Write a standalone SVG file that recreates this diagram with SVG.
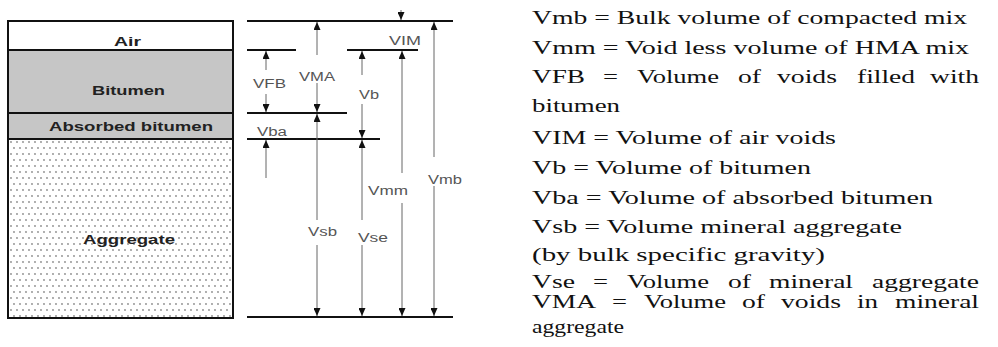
<svg xmlns="http://www.w3.org/2000/svg" width="998" height="347" viewBox="0 0 998 347">
<style>
.box{font-family:"Liberation Sans",Arial,sans-serif;font-weight:bold;font-size:12.5px;fill:#222}
.dim{font-family:"Liberation Sans",Arial,sans-serif;font-size:12px;fill:#555}
.def{font-family:"Liberation Serif","Times New Roman",serif;font-size:19px;fill:#111}
.hl{stroke:#111;stroke-width:2}
.st{stroke:#666;stroke-width:1;fill:none}
.sep{stroke:#111;stroke-width:2}
</style>
<defs>
<pattern id="dots" width="6" height="12" patternUnits="userSpaceOnUse" x="8" y="139">
<circle cx="3" cy="3" r="0.9" fill="#8a8a8a"/>
<circle cx="0" cy="9" r="0.9" fill="#8a8a8a"/>
<circle cx="6" cy="9" r="0.9" fill="#8a8a8a"/>
</pattern>
<marker id="ah" markerUnits="userSpaceOnUse" markerWidth="8" markerHeight="7" refX="8" refY="3.5" orient="auto">
<path d="M0,0 L8,3.5 L0,7 z" fill="#111"/>
</marker>
</defs>
<rect width="998" height="347" fill="#fff"/>

<g id="layer-air">
<rect x="8" y="21" width="225" height="29" fill="#fff"/>
<text class="box" x="114" y="46" textLength="27" lengthAdjust="spacingAndGlyphs">Air</text>
</g>
<g id="layer-bitumen">
<rect x="8" y="50" width="225" height="63" fill="#c6c6c6"/>
<text class="box" x="92" y="95" textLength="73" lengthAdjust="spacingAndGlyphs">Bitumen</text>
</g>
<g id="layer-absorbed">
<rect x="8" y="113" width="225" height="26" fill="#c6c6c6"/>
<text class="box" x="49" y="131" textLength="164" lengthAdjust="spacingAndGlyphs">Absorbed bitumen</text>
</g>
<g id="layer-aggregate">
<rect x="8" y="139" width="225" height="179" fill="url(#dots)"/>
<text class="box" x="83" y="244" textLength="92" lengthAdjust="spacingAndGlyphs">Aggregate</text>
</g>
<g id="box-outline">
<rect x="8" y="21" width="225" height="297" fill="none" stroke="#111" stroke-width="2"/>
<line class="sep" x1="8" y1="50" x2="233" y2="50"/>
<line class="sep" x1="8" y1="113" x2="233" y2="113"/>
<line class="sep" x1="8" y1="139" x2="233" y2="139"/>
</g>

<g id="connectors">
<line class="hl" x1="247" y1="21" x2="453" y2="21"/>
<line class="hl" x1="247" y1="50" x2="296" y2="50"/>
<line class="hl" x1="347" y1="50" x2="418" y2="50"/>
<line class="hl" x1="247" y1="113" x2="347" y2="113"/>
<line class="hl" x1="247" y1="139" x2="380" y2="139"/>
<line class="hl" x1="247" y1="317" x2="453" y2="317"/>

<line class="st" x1="266" y1="70" x2="266" y2="51" marker-end="url(#ah)"/>
<line class="st" x1="266" y1="94" x2="266" y2="112" marker-end="url(#ah)"/>
<line class="st" x1="317" y1="55" x2="317" y2="22" marker-end="url(#ah)"/>
<line class="st" x1="317" y1="83" x2="317" y2="112" marker-end="url(#ah)"/>
<line class="st" x1="362" y1="75" x2="362" y2="51" marker-end="url(#ah)"/>
<line class="st" x1="362" y1="104" x2="362" y2="138" marker-end="url(#ah)"/>
<line class="st" x1="401" y1="10" x2="401" y2="20" marker-end="url(#ah)"/>
<line class="st" x1="402" y1="173" x2="402" y2="51" marker-end="url(#ah)"/>
<line class="st" x1="402" y1="203" x2="402" y2="316" marker-end="url(#ah)"/>
<line class="st" x1="434" y1="157" x2="434" y2="22" marker-end="url(#ah)"/>
<line class="st" x1="434" y1="186" x2="434" y2="316" marker-end="url(#ah)"/>
<line class="st" x1="317" y1="220" x2="317" y2="114" marker-end="url(#ah)"/>
<line class="st" x1="317" y1="245" x2="317" y2="316" marker-end="url(#ah)"/>
<line class="st" x1="362" y1="220" x2="362" y2="140" marker-end="url(#ah)"/>
<line class="st" x1="362" y1="245" x2="362" y2="316" marker-end="url(#ah)"/>
<line class="st" x1="266" y1="178" x2="266" y2="140" marker-end="url(#ah)"/>
</g>

<g id="dim-labels">
<text class="dim" x="253" y="88" textLength="33" lengthAdjust="spacingAndGlyphs">VFB</text>
<text class="dim" x="299" y="81" textLength="36" lengthAdjust="spacingAndGlyphs">VMA</text>
<text class="dim" x="359" y="99" textLength="20" lengthAdjust="spacingAndGlyphs">Vb</text>
<text class="dim" x="257" y="136" textLength="30" lengthAdjust="spacingAndGlyphs">Vba</text>
<text class="dim" x="389" y="45" textLength="32" lengthAdjust="spacingAndGlyphs">VIM</text>
<text class="dim" x="368" y="195" textLength="40" lengthAdjust="spacingAndGlyphs">Vmm</text>
<text class="dim" x="428" y="184" textLength="34" lengthAdjust="spacingAndGlyphs">Vmb</text>
<text class="dim" x="308" y="236" textLength="29" lengthAdjust="spacingAndGlyphs">Vsb</text>
<text class="dim" x="358" y="242" textLength="30" lengthAdjust="spacingAndGlyphs">Vse</text>
</g>

<g id="definitions">
<text class="def" x="532" y="24" textLength="435" lengthAdjust="spacingAndGlyphs">Vmb = Bulk volume of compacted mix</text>
<text class="def" x="532" y="54" textLength="437" lengthAdjust="spacingAndGlyphs">Vmm = Void less volume of HMA mix</text>
<g>
<text class="def" x="532" y="83" textLength="53" lengthAdjust="spacingAndGlyphs">VFB</text>
<text class="def" x="603" y="83" textLength="15" lengthAdjust="spacingAndGlyphs">=</text>
<text class="def" x="637" y="83" textLength="82" lengthAdjust="spacingAndGlyphs">Volume</text>
<text class="def" x="738" y="83" textLength="23" lengthAdjust="spacingAndGlyphs">of</text>
<text class="def" x="777" y="83" textLength="60" lengthAdjust="spacingAndGlyphs">voids</text>
<text class="def" x="857" y="83" textLength="58" lengthAdjust="spacingAndGlyphs">filled</text>
<text class="def" x="930" y="83" textLength="49" lengthAdjust="spacingAndGlyphs">with</text>
</g>
<text class="def" x="532" y="112" textLength="88" lengthAdjust="spacingAndGlyphs">bitumen</text>
<text class="def" x="532" y="144" textLength="304" lengthAdjust="spacingAndGlyphs">VIM = Volume of air voids</text>
<text class="def" x="532" y="174" textLength="279" lengthAdjust="spacingAndGlyphs">Vb = Volume of bitumen</text>
<text class="def" x="532" y="204" textLength="401" lengthAdjust="spacingAndGlyphs">Vba = Volume of absorbed bitumen</text>
<text class="def" x="532" y="233" textLength="370" lengthAdjust="spacingAndGlyphs">Vsb = Volume mineral aggregate</text>
<text class="def" x="532" y="261" textLength="293" lengthAdjust="spacingAndGlyphs">(by bulk specific gravity)</text>
<g>
<text class="def" x="532" y="288" textLength="43" lengthAdjust="spacingAndGlyphs">Vse</text>
<text class="def" x="593" y="288" textLength="15" lengthAdjust="spacingAndGlyphs">=</text>
<text class="def" x="627" y="288" textLength="82" lengthAdjust="spacingAndGlyphs">Volume</text>
<text class="def" x="728" y="288" textLength="23" lengthAdjust="spacingAndGlyphs">of</text>
<text class="def" x="769" y="288" textLength="84" lengthAdjust="spacingAndGlyphs">mineral</text>
<text class="def" x="872" y="288" textLength="107" lengthAdjust="spacingAndGlyphs">aggregate</text>
</g>
<g>
<text class="def" x="532" y="308" textLength="64" lengthAdjust="spacingAndGlyphs">VMA</text>
<text class="def" x="612" y="308" textLength="15" lengthAdjust="spacingAndGlyphs">=</text>
<text class="def" x="644" y="308" textLength="82" lengthAdjust="spacingAndGlyphs">Volume</text>
<text class="def" x="742" y="308" textLength="23" lengthAdjust="spacingAndGlyphs">of</text>
<text class="def" x="781" y="308" textLength="60" lengthAdjust="spacingAndGlyphs">voids</text>
<text class="def" x="857" y="308" textLength="21" lengthAdjust="spacingAndGlyphs">in</text>
<text class="def" x="895" y="308" textLength="84" lengthAdjust="spacingAndGlyphs">mineral</text>
</g>
<text class="def" x="532" y="333" textLength="92" lengthAdjust="spacingAndGlyphs">aggregate</text>
</g>
</svg>
